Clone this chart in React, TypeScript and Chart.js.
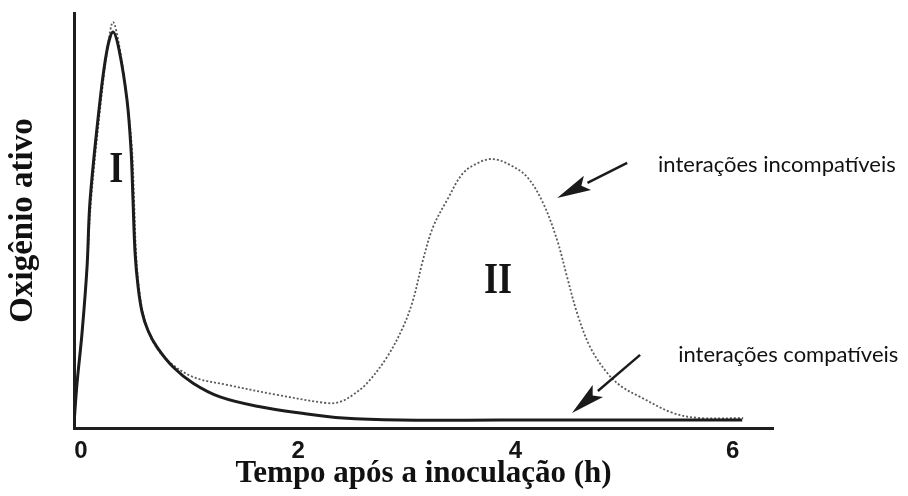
import { useEffect, useRef } from "react";
import { Chart, registerables } from "chart.js";

Chart.register(...registerables);

// Time axis (hours after inoculation)
const X_MIN = -0.063;
const X_MAX = 6.37;
const X_TICKS = [0, 2, 4, 6];
const X_TICK_LABELS = ["0", "2", "4", "6"];

// Compatible interactions: a single early burst (phase I)
const compatibleX = [
  -0.063, -0.035, 0.011, 0.057, 0.085, 0.177, 0.241, 0.296, 0.352, 0.425, 0.462, 0.48,
  0.499, 0.527, 0.563, 0.618, 0.701, 0.849, 1.033, 1.281, 1.649, 2.017, 2.413, 2.94, 3.86, 4.78, 6.087,
];
const compatibleY = [
  1.0, 10.8, 22.9, 38.8, 54.9, 79.0, 91.1, 95.4, 91.1, 79.0, 67.0, 54.9,
  42.2, 34.0, 28.0, 23.5, 19.5, 14.7, 10.8, 7.5, 5.1, 3.6, 2.4, 1.9, 1.9, 1.9, 1.9,
];

// Incompatible interactions: early burst plus a second, sustained one (phase II)
const incompatibleX = [
  -0.063, -0.035, 0.011, 0.057, 0.094, 0.186, 0.25, 0.296, 0.352, 0.425, 0.471, 0.49,
  0.508, 0.536, 0.578, 0.655, 0.793, 1.033, 1.345, 1.806, 2.266, 2.386, 2.505, 2.634, 2.818,
  2.965, 3.057, 3.149, 3.241, 3.37, 3.518, 3.674, 3.794, 3.95, 4.107, 4.254, 4.383,
  4.475, 4.567, 4.687, 4.843, 4.981, 5.147, 5.451, 5.7, 6.096,
];
const incompatibleY = [
  1.0, 10.8, 22.9, 38.8, 54.9, 79.0, 92.3, 97.8, 92.3, 79.0, 67.0, 54.9,
  42.2, 33.5, 27.0, 21.2, 16.4, 12.3, 10.4, 8.0, 6.0, 6.3, 8.0, 10.8, 17.1,
  24.3, 30.8, 40.5, 48.4, 54.9, 61.4, 64.1, 64.8, 63.4, 60.5, 54.2, 45.3,
  36.4, 27.7, 19.5, 13.3, 9.9, 7.5, 3.6, 2.4, 2.4,
];

const SERIES_NAMES = ["interações compatíveis", "interações incompatíveis"];

// Phase numerals, placed in data units
const PHASE_LABELS = [
  { text: "I", x: 0.325, y: 61.9 },
  { text: "II", x: 3.84, y: 35.2 },
];

// Pointer arrows (tail -> tip) and their captions, in data units
const ARROWS = [
  { x0: 5.028, y0: 63.9, x1: 4.383, y1: 55.4 },
  { x0: 5.147, y0: 17.6, x1: 4.52, y1: 3.6 },
];
const CAPTIONS = [
  { text: SERIES_NAMES[1], x: 5.312, y: 63.4 },
  { text: SERIES_NAMES[0], x: 5.497, y: 17.6 },
];

const toPoints = (xs: number[], ys: number[]) => xs.map((x, i) => ({ x, y: ys[i] }));

const annotationPlugin = {
  id: "phaseAnnotations",
  afterDraw(chart: any) {
    const { ctx, scales } = chart;
    const sx = scales.x;
    const sy = scales.y;
    ctx.save();

    ctx.fillStyle = "#151515";
    ctx.font = "bold 44px 'Liberation Serif'";
    ctx.textAlign = "center";
    ctx.textBaseline = "middle";
    PHASE_LABELS.forEach((p) => {
      const px = sx.getPixelForValue(p.x);
      const py = sy.getPixelForValue(p.y);
      ctx.save();
      ctx.translate(px, py);
      ctx.scale(0.82, 1);
      ctx.fillText(p.text, 0, 0);
      ctx.restore();
    });

    ctx.strokeStyle = "#1a1a1a";
    ctx.fillStyle = "#1a1a1a";
    ctx.lineWidth = 2.4;
    ARROWS.forEach((a) => {
      const px0 = sx.getPixelForValue(a.x0);
      const py0 = sy.getPixelForValue(a.y0);
      const px1 = sx.getPixelForValue(a.x1);
      const py1 = sy.getPixelForValue(a.y1);
      const ang = Math.atan2(py1 - py0, px1 - px0);
      const headLen = 34;
      const headHalf = 8;
      const bx = px1 - headLen * Math.cos(ang);
      const by = py1 - headLen * Math.sin(ang);
      ctx.beginPath();
      ctx.moveTo(px0, py0);
      ctx.lineTo(bx, by);
      ctx.stroke();
      const nx = -Math.sin(ang);
      const ny = Math.cos(ang);
      const mx = px1 - headLen * 0.8 * Math.cos(ang);
      const my = py1 - headLen * 0.8 * Math.sin(ang);
      ctx.beginPath();
      ctx.moveTo(px1, py1);
      ctx.lineTo(bx + nx * headHalf, by + ny * headHalf);
      ctx.lineTo(mx, my);
      ctx.lineTo(bx - nx * headHalf, by - ny * headHalf);
      ctx.closePath();
      ctx.fill();
    });

    ctx.fillStyle = "#111";
    ctx.font = "22px Lato";
    ctx.textAlign = "left";
    ctx.textBaseline = "middle";
    CAPTIONS.forEach((c) => {
      ctx.fillText(c.text, sx.getPixelForValue(c.x), sy.getPixelForValue(c.y));
    });

    ctx.restore();
  },
};

export default function App() {
  const canvasRef = useRef<HTMLCanvasElement>(null);

  useEffect(() => {
    document.body.style.margin = "0";
    const canvas = canvasRef.current;
    if (!canvas) return;

    const chart = new Chart(canvas, {
      type: "line",
      data: {
        datasets: [
          {
            label: SERIES_NAMES[0],
            data: toPoints(compatibleX, compatibleY),
            borderColor: "#1c1c1c",
            borderWidth: 3,
            pointRadius: 0,
            tension: 0.35,
            order: 0,
          },
          {
            label: SERIES_NAMES[1],
            data: toPoints(incompatibleX, incompatibleY),
            borderColor: "#5a5a5a",
            borderWidth: 1.8,
            borderDash: [2, 2],
            pointRadius: 0,
            tension: 0.35,
            order: 1,
          },
        ],
      },
      options: {
        animation: false,
        responsive: false,
        devicePixelRatio: 1,
        layout: { padding: { top: 13, right: 135, bottom: 0, left: 0 } },
        plugins: {
          legend: { display: false },
          tooltip: { enabled: false },
        },
        scales: {
          x: {
            type: "linear",
            min: X_MIN,
            max: X_MAX,
            grid: { display: false, drawTicks: false, drawOnChartArea: false, tickLength: 0 },
            border: { display: true, color: "#1e1e1e", width: 3 },
            afterBuildTicks: (scale: any) => {
              scale.ticks = X_TICKS.map((v) => ({ value: v }));
            },
            afterFit: (scale: any) => {
              scale.height = 68;
            },
            ticks: {
              color: "#151515",
              padding: 9,
              maxRotation: 0,
              autoSkip: false,
              font: { family: "'Liberation Sans'", size: 24, weight: "bold" },
              callback: (value: any) => {
                const i = X_TICKS.indexOf(Number(value));
                return i >= 0 ? X_TICK_LABELS[i] : "";
              },
            },
            title: {
              display: true,
              text: "Tempo após a inoculação (h)",
              color: "#111",
              padding: { top: 3, bottom: 3 },
              font: { family: "'Liberation Serif'", size: 31, weight: "bold" },
            },
          },
          y: {
            type: "linear",
            min: 0,
            max: 100,
            grid: { display: false, drawTicks: false, drawOnChartArea: false, tickLength: 0 },
            border: { display: true, color: "#1e1e1e", width: 3 },
            ticks: { display: false },
            afterFit: (scale: any) => {
              scale.width = 74;
            },
            title: {
              display: true,
              text: "Oxigênio ativo",
              color: "#111",
              padding: { top: 4, bottom: 4 },
              font: { family: "'Liberation Serif'", size: 33, weight: "bold" },
            },
          },
        },
      },
      plugins: [annotationPlugin],
    });

    return () => chart.destroy();
  }, []);

  return (
    <div style={{ position: "fixed", left: 0, top: 0, width: 908, height: 496, background: "#fff" }}>
      <canvas ref={canvasRef} width={908} height={496} />
    </div>
  );
}
